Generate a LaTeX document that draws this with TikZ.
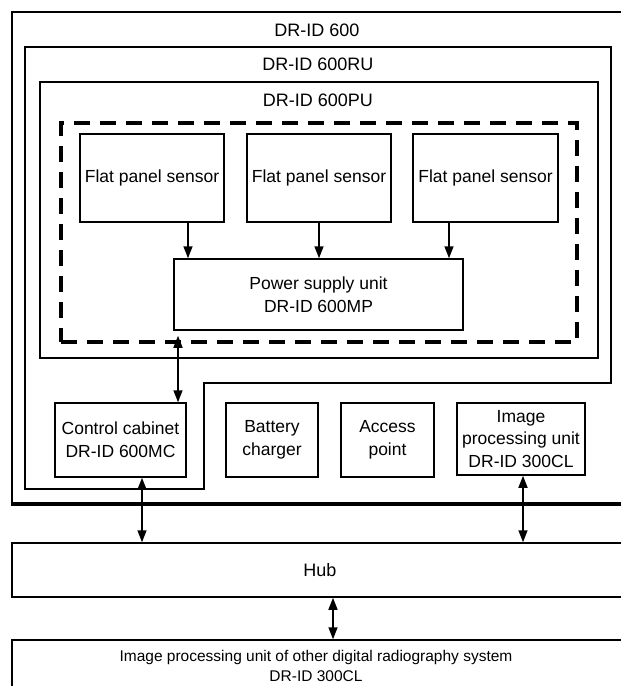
\documentclass[tikz,border=0pt]{standalone}
\usepackage{fontspec}
\setmainfont{Liberation Sans}
\usetikzlibrary{arrows.meta,calc}
\begin{document}
\begin{tikzpicture}[x=1pt,y=-1pt,
  box/.style={draw, line width=1.5pt, inner sep=0pt, align=center, font=\fontsize{17.5}{23}\selectfont},
  lbl/.style={inner sep=0pt, align=center, font=\fontsize{18}{22}\selectfont},
  arr/.style={line width=1.6pt, -{Triangle[length=12pt,width=9pt]}},
  darr/.style={line width=1.6pt, {Triangle[length=12pt,width=9pt]}-{Triangle[length=12pt,width=9pt]}},
]
\clip (0,0) rectangle (621,686);
\fill[white] (0,0) rectangle (621,686);

% outer system box (right side beyond the image)
\node[draw, line width=2.2pt, minimum width=628pt, minimum height=491pt, inner sep=0pt] (sys) at (326,257.5) {};
\draw[line width=3.2pt] (sys.south west) -- (sys.south east);
\node[lbl] (syslbl) at (317,30) {DR-ID 600};

% DR-ID 600RU outline (with notch for control cabinet)
\draw[line width=1.6pt] (25,47) -- (611,47) -- (611,383) -- (204,383) -- (204,489) -- (25,489) -- cycle;
\node[lbl] (rulbl) at (318,64) {DR-ID 600RU};

% DR-ID 600PU
\node[draw, line width=1.5pt, minimum width=558pt, minimum height=276pt, inner sep=0pt] (pu) at (319,220) {};
\node[lbl] (pulbl) at (318,100) {DR-ID 600PU};

% dashed group
\node[draw, line width=4pt, dash pattern=on 16pt off 10pt, minimum width=516pt, minimum height=219pt, inner sep=0pt] (grp) at (319,232.5) {};

% sensors
\node[box, minimum width=144pt, minimum height=88pt] (s1) at (152,178) {Flat panel sensor};
\node[box, minimum width=144pt, minimum height=88pt] (s2) at (319,178) {Flat panel sensor};
\node[box, minimum width=145pt, minimum height=88pt] (s3) at (485.5,178) {Flat panel sensor};

% power supply
\node[box, minimum width=289pt, minimum height=71pt] (psu) at (318.5,294.5) {Power supply unit\\DR-ID 600MP};

% lower row
\node[box, minimum width=131pt, minimum height=74pt] (cab) at (120.5,440) {Control cabinet\\DR-ID 600MC};
\node[box, minimum width=92pt, minimum height=74pt] (bat) at (272,440) {Battery\\charger};
\node[box, minimum width=93pt, minimum height=74pt] (ap) at (387.5,440) {Access\\point};
\node[box, minimum width=128pt, minimum height=72pt, font=\fontsize{17.5}{22.5}\selectfont] (ipu) at (521,439) {Image\\processing unit\\DR-ID 300CL};

% hub and other system
\node[draw, line width=1.5pt, minimum width=628pt, minimum height=54pt, inner sep=0pt] (hub) at (326,570) {};
\node[lbl] (hublbl) at (320,570) {Hub};
\node[draw, line width=1.5pt, minimum width=628pt, minimum height=64pt, inner sep=0pt] (oth) at (326,672) {};
\node[lbl, font=\fontsize{15.5}{19.5}\selectfont] (othlbl) at (316,666) {Image processing unit of other digital radiography system\\DR-ID 300CL};

% connectors
\coordinate (a1) at (188,0);
\coordinate (a2) at (319,0);
\coordinate (a3) at (449,0);
\coordinate (a4) at (178,0);
\coordinate (a5) at (142,0);
\coordinate (a6) at (523,0);
\coordinate (a7) at (333,0);
\draw[arr] (s1.south -| a1) -- (psu.north -| a1);
\draw[arr] (s2.south -| a2) -- (psu.north -| a2);
\draw[arr] (s3.south -| a3) -- (psu.north -| a3);
\draw[darr, shorten <=5pt] (psu.south -| a4) -- (cab.north -| a4);
\draw[darr] (cab.south -| a5) -- (hub.north -| a5);
\draw[darr] (ipu.south -| a6) -- (hub.north -| a6);
\draw[darr] (hub.south -| a7) -- (oth.north -| a7);
\end{tikzpicture}
\end{document}
